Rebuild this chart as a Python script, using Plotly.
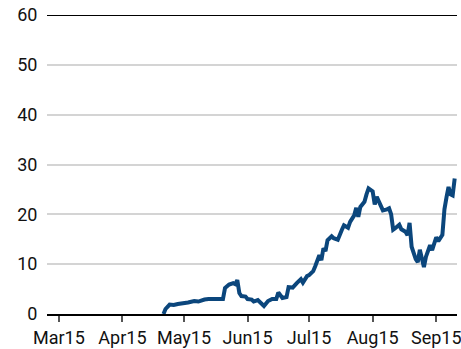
import plotly.graph_objects as go

# Series observations (date, level)
dates = [
    "2015-04-21", "2015-04-22", "2015-04-24", "2015-04-26", "2015-04-28",
    "2015-05-01", "2015-05-03", "2015-05-06", "2015-05-08", "2015-05-11",
    "2015-05-13", "2015-05-20", "2015-05-21", "2015-05-23", "2015-05-25",
    "2015-05-26", "2015-05-27", "2015-05-28", "2015-05-29", "2015-05-31",
    "2015-06-01", "2015-06-03", "2015-06-04", "2015-06-06", "2015-06-07",
    "2015-06-09", "2015-06-11", "2015-06-13", "2015-06-15", "2015-06-16",
    "2015-06-18", "2015-06-20", "2015-06-21", "2015-06-23", "2015-06-25",
    "2015-06-27", "2015-06-28", "2015-06-30", "2015-07-01", "2015-07-03",
    "2015-07-04", "2015-07-06", "2015-07-07", "2015-07-08", "2015-07-09",
    "2015-07-10", "2015-07-12", "2015-07-13", "2015-07-15", "2015-07-16",
    "2015-07-17", "2015-07-18", "2015-07-20", "2015-07-21", "2015-07-22",
    "2015-07-23", "2015-07-24", "2015-07-25", "2015-07-26", "2015-07-28",
    "2015-07-29", "2015-07-30", "2015-08-01", "2015-08-02", "2015-08-03",
    "2015-08-05", "2015-08-06", "2015-08-08", "2015-08-09", "2015-08-10",
    "2015-08-11", "2015-08-12", "2015-08-14", "2015-08-15", "2015-08-17",
    "2015-08-18", "2015-08-19", "2015-08-20", "2015-08-22", "2015-08-23",
    "2015-08-24", "2015-08-26", "2015-08-27", "2015-08-29", "2015-08-30",
    "2015-09-01", "2015-09-02", "2015-09-04", "2015-09-05", "2015-09-06",
    "2015-09-07", "2015-09-08", "2015-09-09", "2015-09-10",
]
values = [
    0.0, 1.0, 1.9, 1.8, 2.0,
    2.1, 2.3, 2.6, 2.5, 2.9,
    3.0, 3.0, 5.2, 5.9, 6.2,
    6.0, 6.8, 4.2, 3.6, 3.5,
    3.0, 2.9, 2.5, 2.8, 2.3,
    1.6, 2.6, 3.0, 3.0, 4.3,
    3.2, 3.4, 5.4, 5.3, 6.2,
    7.0, 6.3, 7.6, 7.8, 8.6,
    9.6, 11.8, 10.8, 13.2, 12.6,
    14.8, 15.6, 15.2, 14.9, 16.2,
    16.9, 17.8, 17.3, 18.5, 19.0,
    19.8, 21.3, 19.5, 21.5, 22.5,
    24.0, 25.2, 24.6, 22.0, 23.5,
    21.5, 20.8, 21.0, 21.2, 20.0,
    16.9, 17.2, 17.9, 17.0, 16.5,
    15.8, 18.3, 13.5, 11.0, 10.4,
    12.9, 9.4, 11.5, 13.8, 12.8,
    15.4, 14.6, 15.9, 21.0, 23.4,
    25.5, 24.0, 23.8, 27.2,
]

x_ticks = ["2015-03-01", "2015-04-01", "2015-05-01", "2015-06-01",
           "2015-07-01", "2015-08-01", "2015-09-01"]
y_ticks = [0, 10, 20, 30, 40, 50, 60]

FONT = "Roboto, sans-serif"

fig = go.Figure()
fig.add_trace(go.Scatter(
    x=dates, y=values, mode="lines",
    line=dict(color="#0b467c", width=4),
    hoverinfo="skip", showlegend=False,
))

fig.update_layout(
    width=461, height=349,
    margin=dict(l=47, r=0, t=15, b=35),
    paper_bgcolor="white", plot_bgcolor="white",
    font=dict(family=FONT, size=18, color="#111111"),
    xaxis=dict(
        type="date",
        range=["2015-02-23 05:00", "2015-09-11 03:00"],
        tickvals=x_ticks, tickformat="%b%y",
        ticklabeloverflow="allow",
        showgrid=False, zeroline=False,
        showline=True, linecolor="#000000", linewidth=2,
        ticks="outside", ticklen=6, tickwidth=1.5, tickcolor="#555555",
    ),
    yaxis=dict(
        range=[0, 60], tickvals=y_ticks,
        showgrid=True, gridcolor="#d4d4d4", gridwidth=1.5,
        zeroline=False, showline=False,
        ticks="outside", ticklen=5, tickcolor="rgba(0,0,0,0)",
    ),
)

# Solid black rule along the top of the value scale
fig.add_shape(type="line", xref="paper", yref="y", x0=0, x1=1, y0=60, y1=60,
              line=dict(color="#000000", width=2), layer="above")

fig.write_html("out.html")
